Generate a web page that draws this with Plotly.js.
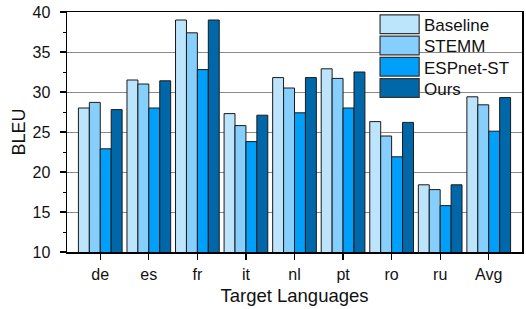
<!DOCTYPE html>
<html>
<head>
<meta charset="utf-8">
<script src="https://cdn.plot.ly/plotly-3.0.1.min.js"></script>
<style>html,body{margin:0;padding:0;background:#fff;}#chart{width:526px;height:309px;}</style>
</head>
<body>
<div id="chart"></div>
<script>
const categories = ["de", "es", "fr", "it", "nl", "pt", "ro", "ru", "Avg"];
const seriesNames = ["Baseline", "STEMM", "ESPnet-ST", "Ours"];
const baseline = [28.0, 31.5, 39.0, 27.3, 31.8, 32.9, 26.3, 18.4, 29.4];
const stemm    = [28.7, 31.0, 37.4, 25.8, 30.5, 31.7, 24.5, 17.8, 28.4];
const espnet   = [22.9, 28.0, 32.8, 23.8, 27.4, 28.0, 21.9, 15.8, 25.1];
const ours     = [27.8, 31.4, 39.0, 27.1, 31.8, 32.5, 26.2, 18.4, 29.3];
const colors = ["#bde4fd", "#86cffc", "#00a0fa", "#0068a8"];
const seriesValues = [baseline, stemm, espnet, ours];

const FONT = "Liberation Sans, Arial, sans-serif";

const traces = seriesValues.map((vals, i) => ({
  type: "bar",
  name: seriesNames[i],
  x: categories,
  y: vals,
  marker: {color: colors[i], line: {color: "#1a1a1a", width: 1}},
  showlegend: false,
  hoverinfo: "x+y+name"
}));

// custom legend (large swatches like the reference)
const shapes = [];
const annotations = [];
const lx0 = 0.688, lx1 = 0.774, ly0 = 0.988, rowH = 0.0885, swH = 0.078;
seriesNames.forEach((n, i) => {
  const top = ly0 - i * rowH;
  shapes.push({type: "rect", xref: "paper", yref: "paper", x0: lx0, x1: lx1, y0: top - swH, y1: top,
    fillcolor: colors[i], line: {color: "#333", width: 1.2}, layer: "above"});
  annotations.push({xref: "paper", yref: "paper", x: 0.78, y: top - swH / 2 - 0.006, xanchor: "left", yanchor: "middle",
    text: n, showarrow: false, font: {family: FONT, size: 17, color: "#111"}});
});

const layout = {
  width: 526, height: 309,
  margin: {l: 67, r: 4, t: 12, b: 57},
  paper_bgcolor: "#fff", plot_bgcolor: "#fff",
  barmode: "group", bargap: 0.1, bargroupgap: 0,
  font: {family: FONT, color: "#111"},
  xaxis: {
    type: "category", range: [-0.685, 8.685],
    showline: true, linecolor: "#000", linewidth: 1.5, mirror: true,
    ticks: "outside", ticklen: 6, tickwidth: 1.2, tickcolor: "#000",
    tickfont: {family: FONT, size: 16, color: "#111"},
    ticklabelstandoff: 1,
    title: {text: "Target Languages", font: {family: FONT, size: 18.5, color: "#111"}, standoff: 7},
    showgrid: false, fixedrange: true
  },
  yaxis: {
    range: [10, 40], dtick: 5, tick0: 10,
    showline: true, linecolor: "#000", linewidth: 1.5, mirror: true,
    ticks: "outside", ticklen: 6, tickwidth: 1.2, tickcolor: "#000",
    tickfont: {family: FONT, size: 16, color: "#111"},
    ticklabelstandoff: 6,
    showgrid: true, gridcolor: "#8a8a8a", gridwidth: 1,
    zeroline: false,
    minor: {dtick: 2.5, ticks: "outside", ticklen: 3, tickwidth: 1, tickcolor: "#000", showgrid: false},
    title: {text: "BLEU", font: {family: FONT, size: 18, color: "#111"}, standoff: 2},
    fixedrange: true
  },
  shapes: shapes,
  annotations: annotations
};

Plotly.newPlot("chart", traces, layout, {displayModeBar: false, staticPlot: true});
</script>
</body>
</html>
